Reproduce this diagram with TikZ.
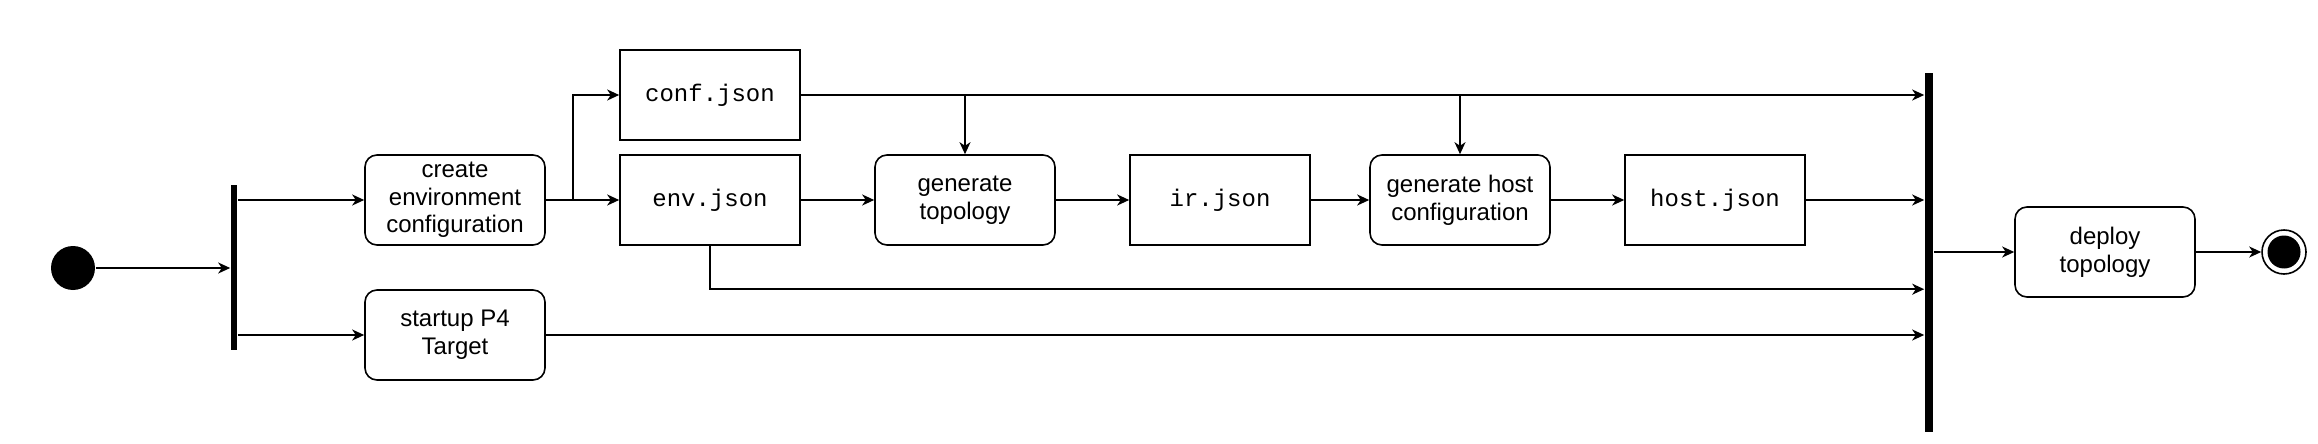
\documentclass[tikz,border=0pt]{standalone}
\usepackage{fontspec}
\setmainfont{Liberation Sans}
\setmonofont{Liberation Mono}
\usetikzlibrary{arrows.meta,calc}
\begin{document}
\begin{tikzpicture}[x=0.5pt,y=-0.5pt,
  every path/.style={line width=0.8pt},
  arr/.style={draw,-{Stealth[length=6pt,width=5.5pt,inset=1.8pt]}},
  act/.style={draw,rounded corners=6pt,minimum width=90pt,minimum height=45pt,inner sep=1pt,align=center,font=\fontsize{12}{13.8}\selectfont},
  file/.style={draw,minimum width=90pt,minimum height=45pt,inner sep=1pt,font=\ttfamily\fontsize{12}{14}\selectfont},
  bar/.style={fill=black,inner sep=0pt}
]
\useasboundingbox (0,0) rectangle (2318,444);
\node[circle,fill=black,minimum size=22pt,inner sep=0pt] (start) at (73,268) {};
\node[bar,minimum width=3pt,minimum height=82.5pt] (fork) at (234,267.5) {};
\node[act] (create) at (455,200) {create\\environment\\configuration};
\node[act] (startup) at (455,335) {startup P4\\Target};
\coordinate (br) at (573,200);
\node[file] (conf) at (710,95) {conf.json};
\node[file] (env) at (710,200) {env.json};
\node[act] (gentopo) at (965,200) {generate\\topology};
\node[file] (ir) at (1220,200) {ir.json};
\node[act] (genhost) at (1460,200) {generate host\\configuration};
\node[file] (host) at (1715,200) {host.json};
\node[bar,minimum width=4pt,minimum height=179.5pt] (join) at (1929,252.5) {};
\node[act] (deploy) at (2105,252) {deploy\\topology};
\node[circle,draw,minimum size=22pt,inner sep=0pt] (end) at (2284,252) {};
\node[circle,fill=black,minimum size=16.5pt,inner sep=0pt] (endin) at (end) {};

\draw[arr] (start.east) -- (start.east -| fork.west);
\draw[arr] (fork.east |- create) -- (create);
\draw[arr] (fork.east |- startup) -- (startup);
\draw[arr] (create) -- (env);
\draw[arr] (create.east) -- (br) |- (conf);
\draw[arr] (conf) -- (conf -| join.west);
\draw[arr] (conf -| gentopo) -- (gentopo.north);
\draw[arr] (conf -| genhost) -- (genhost.north);
\draw[arr] (env) -- (gentopo);
\draw[arr] (gentopo) -- (ir);
\draw[arr] (ir) -- (genhost);
\draw[arr] (genhost) -- (host);
\draw[arr] (host) -- (host -| join.west);
\draw[arr] (env.south) |- (startup.north -| join.west);
\draw[arr] (startup) -- (startup -| join.west);
\draw[arr] (join.east |- deploy) -- (deploy);
\draw[arr] (deploy) -- (end);
\end{tikzpicture}
\end{document}
